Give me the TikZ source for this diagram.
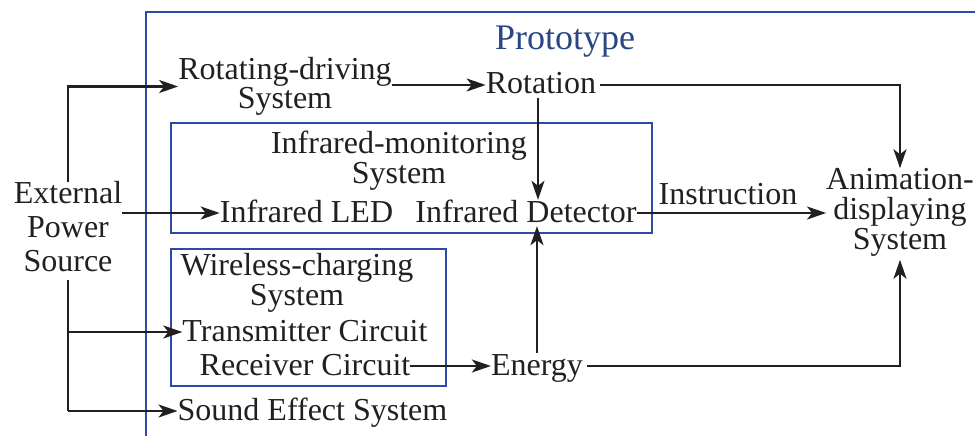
\documentclass[tikz,border=0pt]{standalone}
\usepackage{fontspec}
\setmainfont{Liberation Serif}
\usetikzlibrary{arrows.meta}
\definecolor{frameblue}{RGB}{45,75,165}
\definecolor{protoblue}{RGB}{40,70,130}
\definecolor{ink}{RGB}{35,31,32}
\tikzset{
  txt/.style={font=\fontsize{32}{30}\selectfont, text=ink, inner sep=0pt, text height=22pt, text depth=4pt},
  mtxt/.style={font=\fontsize{32}{30}\selectfont, text=ink, inner sep=0pt, align=center},
  groupbox/.style={draw=frameblue, line width=2pt, inner sep=0pt},
  arr/.style={draw=ink, line width=2.1pt, -{Stealth[length=19pt,width=13pt,inset=5pt]}},
  ln/.style={draw=ink, line width=2.1pt}
}
\begin{document}
\begin{tikzpicture}[x=1pt,y=-1pt]
\useasboundingbox (0,0) rectangle (975,436);
% outer prototype frame (cropped)
\draw[frameblue, line width=2pt] (146,436) -- (146,12) -- (975,12);
\node[font=\fontsize{36}{36}\selectfont, text=protoblue, inner sep=0pt, anchor=base] (proto) at (565,50) {Prototype};
% group boxes
\node[groupbox, minimum width=481pt, minimum height=110pt] (irbox) at (411.5,178) {};
\node[groupbox, minimum width=275pt, minimum height=137pt] (wcbox) at (308.5,317.5) {};
% text nodes
\node[mtxt, font=\fontsize{32}{34}\selectfont] (ext) at (68,227) {External\\Power\\Source};
\node[mtxt, font=\fontsize{32}{28}\selectfont] (rds) at (285,86.5) {Rotating-driving\\System};
\node[txt] (rot) at (541,85) {Rotation};
\node[mtxt] (irt) at (399,160.5) {Infrared-monitoring\\System};
\node[txt] (led) at (306.5,213) {Infrared LED};
\node[txt] (det) at (526,213) {Infrared Detector};
\node[mtxt] (anim) at (900,212.5) {Animation-\\displaying\\System};
\node[txt, anchor=base] (instr) at (728,204) {Instruction};
\node[mtxt] (wct) at (297,282.5) {Wireless-charging\\System};
\node[txt] (tx) at (305,332) {Transmitter Circuit};
\node[txt] (rx) at (305,366) {Receiver Circuit};
\node[txt] (energy) at (537,366) {Energy};
\node[txt] (sound) at (312.5,411) {Sound Effect System};
% connectors
\draw[arr] (ext.north) -- (ext.north |- rds.west) -- (rds.west);
\draw[arr] (ext.east |- led.west) -- (led.west);
\draw[ln] ([yshift=-8pt]ext.south) -- (ext.south |- sound.west);
\draw[arr] (ext.south |- tx.west) -- (tx.west);
\draw[arr] (ext.south |- sound.west) -- (sound.west);
\draw[arr] (rds.east |- rot.west) -- (rot.west);
\draw[arr] ([xshift=4pt]rot.east) -- (anim.north |- rot.east) -- (anim.north);
\draw[arr] ([xshift=-3pt]rot.south) -- ([xshift=-3pt]rot.south |- det.north);
\draw[arr] (det.east) -- (det.east -| anim.west);
\draw[arr] (rx.east) -- (energy.west);
\draw[arr] (energy.north) -- (energy.north |- det.south);
\draw[arr] ([xshift=4pt]energy.east) -- (anim.south |- energy.east) -- ([yshift=-3pt]anim.south);
\end{tikzpicture}
\end{document}
